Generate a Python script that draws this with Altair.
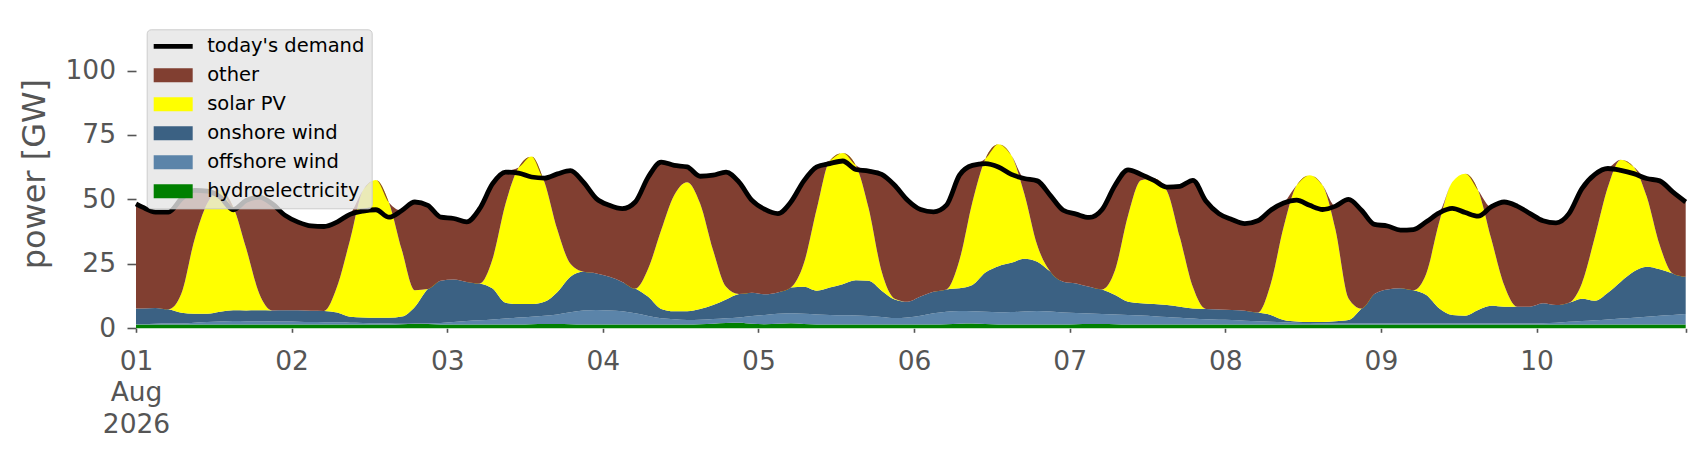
import json
import altair as alt
import pandas as pd

# ---------------- data ----------------
day_numbers = [1, 2, 3, 4, 5, 6, 7, 8, 9, 10]
sample_hours = [1, 3, 5, 7, 9, 11, 13, 15, 17, 19, 21, 23]
times = ["2026-08-01T00:00:00"] + [
    f"2026-08-{d:02d}T{h:02d}:00:00" for d in day_numbers for h in sample_hours
]

demand = [48.3,
    47.0, 45.1, 45.1, 50.2, 53.5, 53.2, 50.9, 46.0, 49.6, 50.9, 48.3, 43.8,
    41.2, 39.7, 39.5, 41.2, 44.2, 45.5, 46.0, 43.1, 45.7, 49.0, 47.7, 43.1,
    42.6, 41.3, 46.4, 56.1, 60.6, 60.2, 58.7, 58.3, 59.9, 61.2, 56.7, 50.3,
    47.7, 46.4, 49.0, 58.7, 64.5, 63.2, 62.6, 59.0, 59.4, 60.6, 56.7, 49.6,
    46.1, 44.5, 49.0, 57.2, 62.6, 63.9, 64.9, 61.6, 61.0, 59.7, 55.5, 49.7,
    46.1, 45.2, 47.8, 59.4, 63.2, 63.9, 62.6, 59.7, 58.1, 57.2, 51.6, 45.8,
    44.3, 43.0, 46.1, 55.5, 61.5, 59.7, 57.4, 54.8, 55.1, 57.4, 49.4, 44.5,
    42.2, 40.6, 41.7, 45.8, 48.6, 49.7, 47.7, 46.1, 47.4, 50.0, 45.8, 40.3,
    39.7, 38.1, 38.3, 41.3, 44.8, 46.5, 44.9, 43.5, 47.1, 49.0, 47.4, 44.5,
    41.7, 40.9, 44.5, 54.2, 59.7, 62.0, 61.3, 60.0, 58.1, 57.2, 52.9, 49.0]

solar = [0.0,
    0, 0, 0, 7.5, 28.6, 42.9, 47.1, 40.1, 24.0, 6.5, 0, 0,
    0, 0, 0, 10.0, 29.7, 49.3, 53.5, 44.8, 25.8, 6.5, 0, 0,
    0, 0, 0, 11.6, 38.5, 53.0, 57.3, 46.4, 24.0, 5.0, 0, 0,
    0, 0, 0, 11.0, 30.6, 45.0, 50.1, 40.9, 21.3, 4.9, 0, 0,
    0, 0, 0, 9.1, 31.9, 49.3, 50.9, 44.7, 28.1, 7.4, 0.3, 0,
    0, 0, 0, 11.0, 32.2, 44.2, 47.3, 41.7, 25.2, 6.4, 0, 0,
    0, 0, 0, 9.7, 33.5, 47.7, 48.7, 44.3, 26.8, 8.3, 0, 0,
    0, 0, 0, 12.0, 36.2, 52.9, 57.0, 53.1, 35.4, 8.4, 0, 0,
    0, 0, 0, 8.4, 33.6, 51.6, 55.1, 46.4, 26.1, 8.4, 0, 0,
    0, 0, 0, 6.0, 24.8, 41.0, 47.3, 40.6, 27.1, 9.3, 0, 0]

onshore = [6.0,
    6.0, 6.1, 5.5, 4.1, 3.4, 3.2, 3.8, 4.2, 4.2, 4.3, 4.3, 4.4,
    4.5, 4.4, 4.4, 3.8, 2.3, 2.1, 2.1, 2.2, 2.8, 6.4, 13.3, 16.3,
    16.5, 15.2, 14.3, 12.0, 6.1, 5.2, 4.9, 5.4, 8.7, 13.8, 15.0, 14.2,
    13.1, 11.4, 9.6, 7.4, 3.6, 3.1, 3.4, 4.2, 5.4, 7.3, 9.1, 9.0,
    8.0, 8.3, 10.0, 10.5, 9.2, 10.6, 12.0, 13.6, 13.6, 10.2, 7.2, 6.1,
    7.4, 8.4, 8.7, 8.8, 10.2, 15.2, 17.9, 19.1, 20.5, 19.1, 15.5, 12.0,
    11.5, 10.4, 9.6, 7.5, 5.1, 4.7, 4.7, 4.6, 4.3, 3.9, 4.0, 4.0,
    3.9, 3.9, 3.4, 2.7, 0.9, 0.4, 0.3, 0.4, 0.8, 1.3, 5.8, 11.4,
    13.2, 13.6, 12.9, 11.0, 5.8, 3.3, 3.0, 5.2, 6.8, 6.5, 6.5, 6.5,
    7.7, 6.8, 7.4, 8.7, 7.6, 10.4, 14.3, 17.9, 19.4, 18.0, 16.1, 14.5]

offshore = [0.2,
    0.2, 0.3, 0.35, 0.4, 0.7, 0.9, 1.1, 1.3, 1.25, 1.2, 1.15, 1.1,
    1.0, 0.9, 0.85, 0.8, 0.7, 0.6, 0.45, 0.35, 0.15, 0.1, 0.2, 0.6,
    0.9, 1.3, 1.6, 1.9, 2.3, 2.7, 2.9, 3.2, 3.7, 4.6, 5.4, 5.6,
    5.4, 5.1, 4.3, 3.3, 2.4, 2.0, 1.7, 1.7, 1.8, 1.8, 2.0, 3.0,
    3.6, 3.8, 3.8, 3.9, 3.9, 3.7, 3.6, 3.5, 3.3, 2.9, 2.5, 2.7,
    3.4, 4.3, 4.8, 4.9, 4.7, 4.7, 4.7, 4.8, 5.0, 5.2, 5.0, 4.6,
    4.3, 4.0, 3.8, 3.8, 3.7, 3.5, 3.2, 2.9, 2.6, 2.3, 2.0, 1.8,
    1.7, 1.4, 1.2, 1.0, 0.8, 0.7, 0.6, 0.5, 0.4, 0.4, 0.4, 0.4,
    0.4, 0.4, 0.4, 0.4, 0.4, 0.4, 0.4, 0.4, 0.4, 0.4, 0.4, 0.4,
    0.5, 0.7, 1.0, 1.3, 1.6, 1.9, 2.3, 2.6, 3.0, 3.4, 3.7, 4.0]

hydro = [1.5,
    1.5, 1.5, 1.5, 1.5, 1.5, 1.5, 1.5, 1.5, 1.5, 1.5, 1.5, 1.5,
    1.5, 1.5, 1.5, 1.5, 1.5, 1.5, 1.5, 1.5, 1.6, 1.8, 1.7, 1.5,
    1.5, 1.5, 1.5, 1.5, 1.5, 1.5, 1.6, 1.7, 1.7, 1.6, 1.5, 1.5,
    1.5, 1.5, 1.5, 1.5, 1.5, 1.5, 1.5, 1.6, 1.8, 2.1, 2.2, 1.8,
    1.6, 1.8, 2.0, 1.7, 1.5, 1.5, 1.5, 1.5, 1.5, 1.5, 1.5, 1.5,
    1.5, 1.5, 1.6, 1.8, 1.9, 1.7, 1.5, 1.5, 1.5, 1.5, 1.5, 1.5,
    1.6, 1.7, 1.7, 1.6, 1.5, 1.5, 1.5, 1.5, 1.5, 1.5, 1.5, 1.5,
    1.5, 1.5, 1.5, 1.5, 1.5, 1.5, 1.5, 1.5, 1.5, 1.5, 1.5, 1.5,
    1.5, 1.5, 1.5, 1.5, 1.5, 1.5, 1.5, 1.5, 1.5, 1.5, 1.5, 1.5,
    1.5, 1.5, 1.5, 1.5, 1.5, 1.5, 1.5, 1.5, 1.5, 1.5, 1.5, 1.5]

legend_labels = ["today's demand", "other", "solar PV", "onshore wind",
                 "offshore wind", "hydroelectricity"]
legend_colors = ["#000000", "#813F31", "#FFFF00", "#3B6183", "#5B84A9", "#008000"]
stack_series = ["hydroelectricity", "offshore wind", "onshore wind", "solar PV", "other"]
tick_label_lines = [["01", "Aug", "2026"], ["02"], ["03"], ["04"], ["05"],
                    ["06"], ["07"], ["08"], ["09"], ["10"]]
y_ticks = [0, 25, 50, 75, 100]

# "other" fills the gap between renewables and demand
other = [max(d - (h + o + w + s), 0.0)
         for d, h, o, w, s in zip(demand, hydro, offshore, onshore, solar)]

series_values = {
    "hydroelectricity": hydro,
    "offshore wind": offshore,
    "onshore wind": onshore,
    "solar PV": solar,
    "other": other,
}
rows = []
for rank, name in enumerate(stack_series):
    for t, v in zip(times, series_values[name]):
        rows.append({"t": t, "series": name, "value": v, "rank": rank})
area_df = pd.DataFrame(rows)
demand_df = pd.DataFrame({"t": times, "demand": demand})

# ---------------- chart ----------------
GREY = "#555555"
x_values = [alt.DateTime(year=2026, month=8, date=d, hours=0) for d in day_numbers]
x_values.append(alt.DateTime(year=2026, month=8, date=10, hours=23))
label_expr = (f"hours(datum.value) != 0 ? '' : "
              f"{json.dumps(tick_label_lines)}[date(datum.value) - 1]")

x_enc = alt.X(
    "t:T",
    scale=alt.Scale(nice=False),
    axis=alt.Axis(
        values=x_values, labelExpr=label_expr, title=None, domain=False, grid=False,
        tickSize=4, tickWidth=1.6, tickColor=GREY,
        labelFontSize=26.5, labelColor=GREY, labelPadding=16, labelLineHeight=31.7,
        labelAlign="center", labelBaseline="top", labelFlush=False, labelOverlap=False,
    ),
)

y_scale = alt.Scale(domain=[0, 120], nice=False, zero=True)

sym_expr = ("datum.value == \"today's demand\" ? "
            "'M-1.95,-0.24L1.95,-0.24L1.95,0.24L-1.95,0.24Z' : "
            "'M-1.95,-0.7L1.95,-0.7L1.95,0.7L-1.95,0.7Z'")

area = alt.Chart(area_df).mark_area(interpolate="monotone", opacity=1).encode(
    x=x_enc,
    y=alt.Y(
        "value:Q", stack="zero", scale=y_scale,
        axis=alt.Axis(
            values=y_ticks, title="power [GW]", domain=False, grid=False,
            tickSize=9, tickWidth=1.6, tickColor=GREY,
            labelFontSize=26.5, labelColor=GREY, labelPadding=11.5,
            titleFontSize=32, titleColor=GREY, titleFontWeight="normal", titlePadding=13,
        ),
    ),
    color=alt.Color(
        "series:N",
        scale=alt.Scale(domain=legend_labels, range=legend_colors),
        legend=alt.Legend(
            title=None, orient="none", legendX=10.7, legendY=10.3,
            fillColor="rgba(229,229,229,0.8)", strokeColor="#CCCCCC", cornerRadius=4,
            padding=7, rowPadding=9, symbolSize=400, symbolType={"expr": sym_expr},
            symbolOffset=9.5, labelOffset=24, symbolStrokeWidth=0,
            labelFontSize=19.5, labelColor="black", labelLimit=0, zindex=2,
        ),
    ),
    order=alt.Order("rank:Q", sort="ascending"),
)

line = alt.Chart(demand_df).mark_line(
    color="black", strokeWidth=4.8, interpolate="monotone", strokeJoin="round"
).encode(x=alt.X("t:T"), y=alt.Y("demand:Q", scale=y_scale))

chart = alt.layer(area, line).properties(
    width=1549.7, height=309.3,
    autosize=alt.AutoSizeParams(type="none"),
    padding={"left": 128, "top": 11, "right": 12, "bottom": 115},
).configure(font="DejaVu Sans").configure_view(stroke=None)

chart.save("out.html", embed_options={"renderer": "svg", "actions": False})
